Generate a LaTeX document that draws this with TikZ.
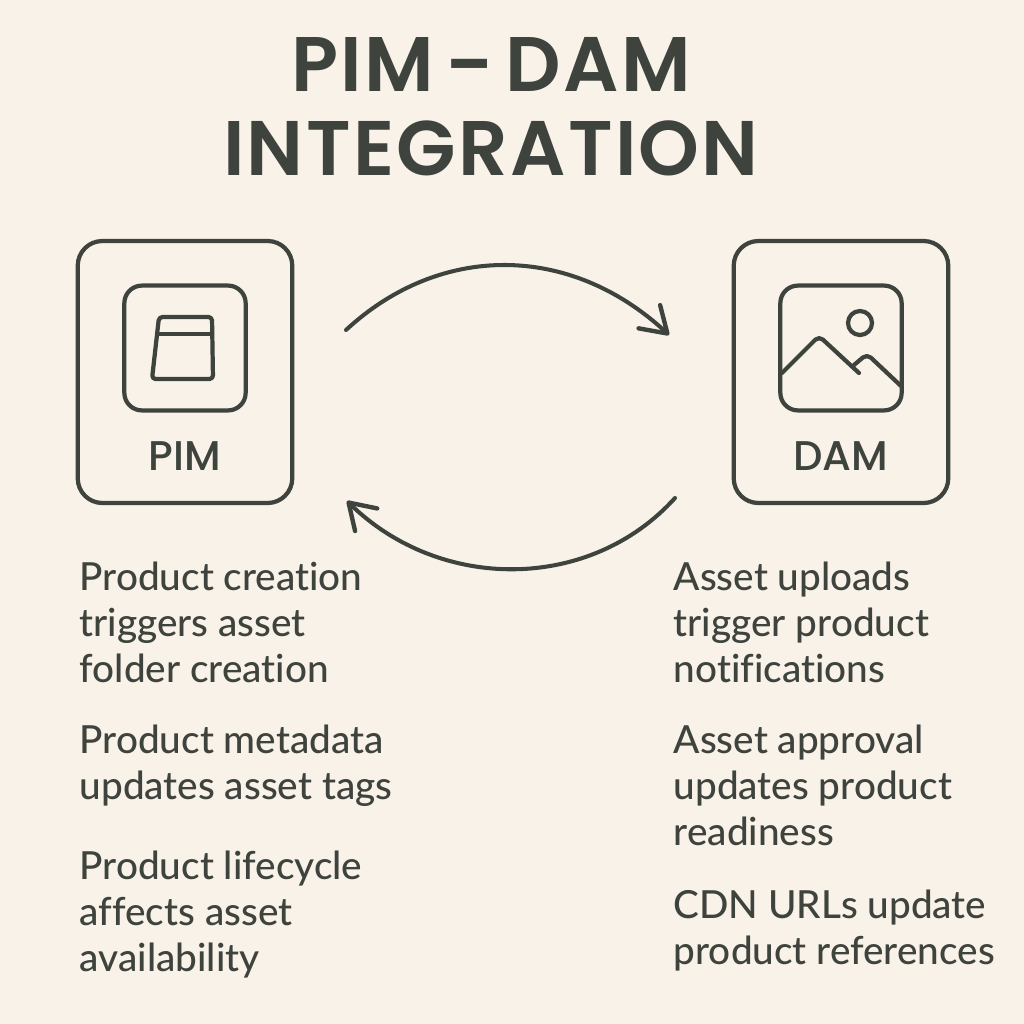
\documentclass[tikz,border=0pt]{standalone}
\usepackage{fontspec}
\setmainfont[Ligatures=NoCommon]{Lato Medium}
\newfontfamily\titlefont[LetterSpace=3]{Poppins SemiBold}
\newfontfamily\labelfont{Poppins Medium}
\usetikzlibrary{arrows.meta,positioning}
\definecolor{paper}{HTML}{F9F2E9}
\definecolor{ink}{HTML}{3E433D}
\tikzset
{
  card/.style     = {draw=ink, line width=1.2pt, rounded corners=7pt, minimum width=61pt, minimum height=74.5pt},
  iconbox/.style  = {draw=ink, line width=1.2pt, rounded corners=5pt, minimum width=34.5pt, minimum height=35.5pt},
  iconline/.style = {draw=ink, line width=1.2pt, line join=round, line cap=round},
  cardlabel/.style= {text=ink, font=\labelfont\fontsize{11.8}{13}\selectfont},
  bigtitle/.style = {text=ink, align=center, font=\titlefont\fontsize{22}{23.9}\selectfont},
  blurb/.style    = {text=ink, align=left, anchor=north west, inner sep=0pt, font=\fontsize{11}{13.1}\selectfont},
  flow/.style     = {draw=ink, line width=1.15pt, line cap=round, -{Straight Barb[round,length=7pt,width=9pt,line width=1.25pt]}}
}
\begin{document}
\begin{tikzpicture}[x=0.01cm,y=-0.01cm]
  \useasboundingbox (0,0) rectangle (1024,1024);
  \fill[paper] (0,0) rectangle (1024,1024);
  \node [bigtitle] (title) at (491,107) {PIM\hspace{-2.3pt} \scalebox{0.85}[1]{–} \hspace{-2.3pt}DAM\\INTEGRATION};
  % the two cards
  \node [card] (pim) at (185,372) {};
  \node [card] (dam) at (841,372) {};
  \node [iconbox] (pimicon) at (185,348) {};
  \node [iconbox] (damicon) at (841,348) {};
  \node [cardlabel] (pimlabel) at (185,456) {PIM};
  \node [cardlabel] (damlabel) at (841,456) {DAM};
  % folder glyph
  \draw [iconline, rounded corners=1pt] (185,317) -- (212,317) -- (213,379) -- (152,379) -- (159,317) -- cycle;
  \draw [iconline] (159,334) -- (212,334);
  % picture glyph
  \draw [iconline] (860,323) circle (12);
  \draw [iconline, rounded corners=1.5pt] (782,373) -- (819,336) -- (859,373);
  \draw [iconline, rounded corners=1.5pt] (854,365) -- (867,354) -- (901,386);
  % arrows
  \coordinate (topstart) at (346,330);
  \coordinate (topend) at (669,335);
  \coordinate (botstart) at (675,498);
  \coordinate (botend) at (347,501);
  \draw [flow] (topstart) .. controls (440,243) and (570,243) .. (topend);
  \draw [flow] (botstart) .. controls (590,592) and (440,592) .. (botend);
  % left column
  \node [blurb] (pimone) at (79,561) {Product creation\\triggers asset\\folder creation};
  \node [blurb] (pimtwo) at (79,724) {Product metadata\\updates asset tags};
  \node [blurb] (pimthree) at (79,850) {Product lifecycle\\affects asset\\availability};
  % right column
  \node [blurb] (damone) at (673,561) {Asset uploads\\trigger product\\notifications};
  \node [blurb] (damtwo) at (673,724) {Asset approval\\updates product\\readiness};
  \node [blurb] (damthree) at (673,889) {CDN URLs update\\product references};
\end{tikzpicture}
\end{document}
